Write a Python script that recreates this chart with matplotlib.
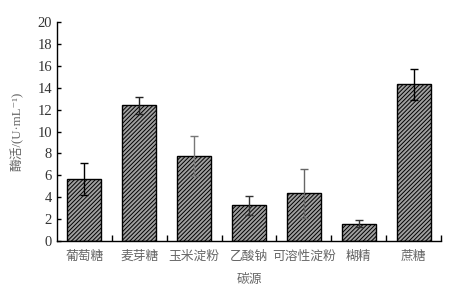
import numpy as np
import matplotlib.pyplot as plt

plt.rcParams['font.family'] = ['Liberation Serif', 'DejaVu Serif', 'Noto Sans CJK SC']
plt.rcParams['hatch.linewidth'] = 0.7

# carbon sources and enzyme activity (U/mL)
sources = ["葡萄糖", "麦芽糖", "玉米淀粉", "乙酸钠", "可溶性淀粉", "糊精", "蔗糖"]
activity = [5.7, 12.4, 7.75, 3.25, 4.35, 1.6, 14.3]
errors = [1.45, 0.8, 1.8, 0.9, 2.2, 0.3, 1.45]
err_colors = ["black", "#222222", "#777777", "#333333", "#666666", "#333333", "black"]

fig = plt.figure(figsize=(4.59, 2.94), dpi=100)
ax = fig.add_axes([0.124, 0.180, 0.837, 0.745])

x = np.arange(len(sources))
ax.bar(x, activity, width=0.62, color="#a0a0a0", edgecolor="black",
       linewidth=1.0, hatch="////////")
for xi, v, e, c in zip(x, activity, errors, err_colors):
    ax.errorbar(xi, v, yerr=e, fmt="none", ecolor=c, elinewidth=1.0,
                capsize=3, capthick=1.0)

ax.set_xlim(-0.5, len(sources) - 0.5)
ax.set_ylim(0, 20)
ax.set_yticks(np.arange(0, 21, 2))
ax.set_xticks(x)
ax.set_xticklabels(sources, color="#666666", fontsize=9.2)
ax.tick_params(axis="x", length=0, pad=7)
ax.set_xticks(np.arange(0.5, len(sources), 1), minor=True)
ax.tick_params(axis="x", which="minor", direction="in", length=4, width=1)
ax.tick_params(axis="y", direction="in", length=3, width=1,
               labelsize=10.5, labelcolor="#333333")

for s in ["top", "right"]:
    ax.spines[s].set_visible(False)
for s in ["left", "bottom"]:
    ax.spines[s].set_linewidth(1.0)

ax.set_xlabel("碳源", color="#666666", fontsize=9.2, labelpad=8)
ax.set_ylabel("酶活/(U·mL⁻¹)", color="#666666", fontsize=9.2, labelpad=10)

fig.savefig("out.png", dpi=100)
